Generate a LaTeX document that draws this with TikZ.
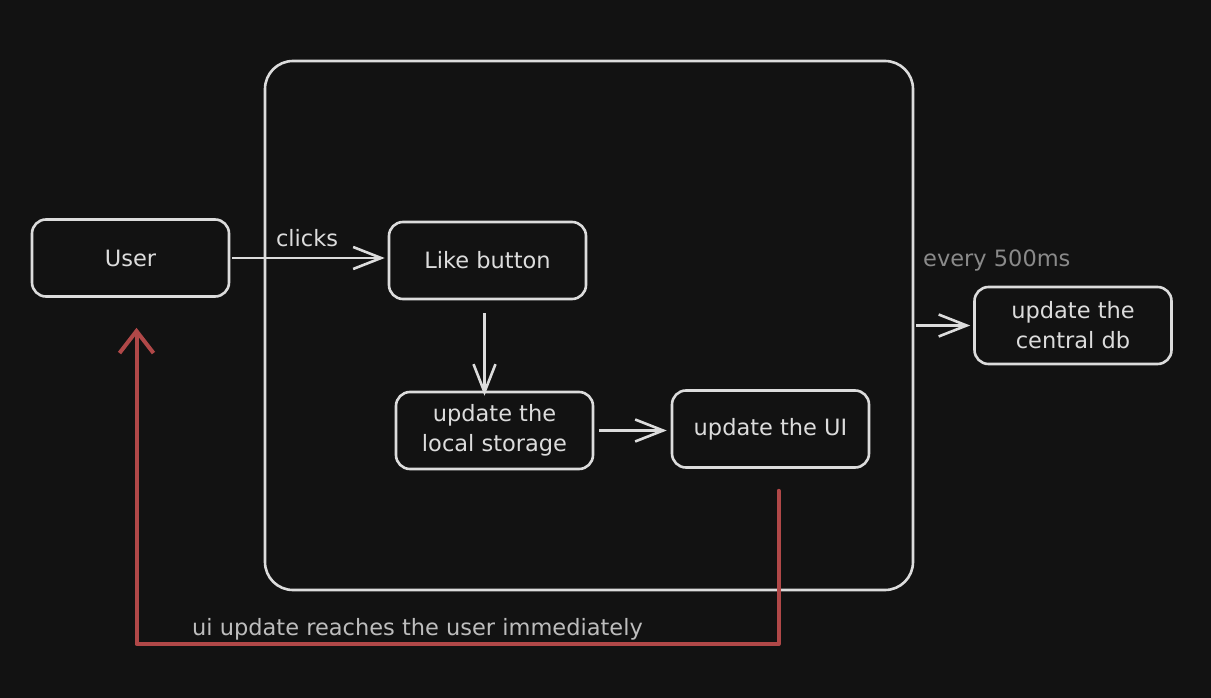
\documentclass[tikz,border=0pt]{standalone}
\usepackage{fontspec}
\setmainfont{DejaVu Sans}
\usetikzlibrary{arrows.meta}
\definecolor{bg}{HTML}{121212}
\definecolor{ink}{HTML}{DCDCDC}
\definecolor{muted}{HTML}{8A8A8A}
\definecolor{soft}{HTML}{BDBDBD}
\definecolor{redline}{HTML}{B04848}
\tikzset{
  box/.style={draw=ink, line width=2.6pt, rounded corners=14pt, fill=bg, text=ink,
    minimum width=197pt, minimum height=77pt, align=center, font=\fontsize{22.5}{30}\selectfont, inner sep=0pt},
  flow/.style={draw=ink, line width=2.6pt, -{Straight Barb[length=28pt,width=22pt,line width=2.6pt]}},
  lbl/.style={text=ink, font=\fontsize{22.5}{26}\selectfont, inner sep=0pt},
  redarrow/.style={draw=redline, line width=4pt, line cap=round, line join=round,
    -{Straight Barb[length=22pt,width=34pt,line width=4pt]}}
}
\begin{document}
\begin{tikzpicture}[x=1pt,y=-1pt]
\fill[bg] (0,0) rectangle (1211,698);
\useasboundingbox (0,0) rectangle (1211,698);
% container
\node[draw=ink, line width=2.6pt, rounded corners=28pt, minimum width=648pt, minimum height=529pt, inner sep=0pt] (app) at (589,325.5) {};
% nodes
\node[box] (user) at (130.5,258) {User};
\node[box] (like) at (487.5,260.5) {Like button};
\node[box] (store) at (494.5,430.5) {update the\\local storage};
\node[box] (ui) at (770.5,429) {update the UI};
\node[box] (db) at (1073,325.5) {update the\\central db};
% labels
\node[lbl, anchor=base] (clicks) at (307,247) {clicks};
\node[lbl, text=muted, anchor=base west] (every) at (923,266) {every 500ms};
\node[lbl, text=soft, anchor=base west] (immediate) at (192,635) {ui update reaches the user immediately};
% connectors
\draw[flow, shorten <=2pt, shorten >=3pt] (user.east) -- (user.east -| like.west);
\draw[flow] ([xshift=-3pt,yshift=-13pt]like.south) -- ([xshift=-3pt,yshift=-5pt]like.south |- store.north);
\draw[flow, shorten <=5pt, shorten >=4pt] (store.east) -- (store.east -| ui.west);
\draw[flow, shorten <=2pt, shorten >=3pt] (app.east) -- (db.west);
\coordinate (corner) at (136.5,644);
\draw[redarrow] ([xshift=8pt,yshift=-22pt]ui.south) |- (corner) -- ([xshift=6pt,yshift=-30pt]user.south);
\end{tikzpicture}
\end{document}
